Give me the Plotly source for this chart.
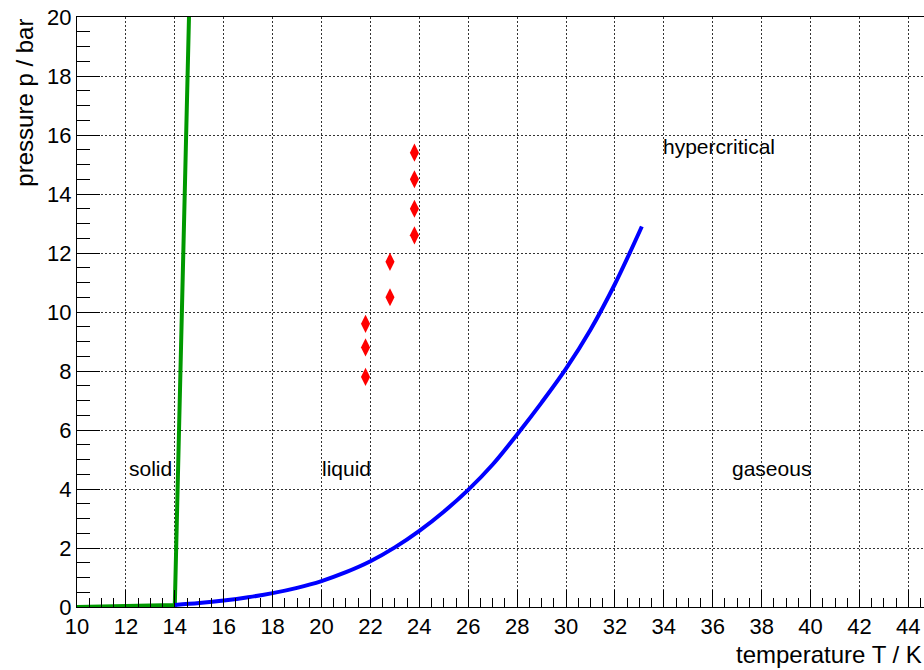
import plotly.graph_objects as go

# Data
melt_T = [10.0, 14.0, 14.58]
melt_p = [0.0, 0.07, 20.0]

vap_T = [14, 15, 16, 17, 18, 19, 20, 21, 22, 23, 24, 25, 26, 27, 28, 29, 30, 31, 32, 33.1]
vap_p = [0.07, 0.135, 0.22, 0.33, 0.47, 0.65, 0.88, 1.18, 1.55, 2.02, 2.58, 3.23, 3.97,
         4.83, 5.85, 6.93, 8.08, 9.4, 10.95, 12.9]

meas_T = [21.8, 21.8, 21.8, 22.8, 22.8, 23.8, 23.8, 23.8, 23.8]
meas_p = [7.8, 8.8, 9.6, 10.5, 11.7, 12.6, 13.5, 14.5, 15.4]

region_labels = ["solid", "liquid", "hypercritical", "gaseous"]
region_T = [12.05, 19.95, 33.9, 36.7]
region_p = [4.7, 4.7, 15.6, 4.7]

x_range = [10, 44.64]
y_range = [0, 20]

FONT = "Liberation Sans, Arial, sans-serif"

fig = go.Figure()
fig.add_trace(go.Scatter(x=melt_T, y=melt_p, mode="lines",
                         line=dict(color="#009900", width=4), showlegend=False))
fig.add_trace(go.Scatter(x=vap_T, y=vap_p, mode="lines",
                         line=dict(color="#0000ff", width=4, shape="spline", smoothing=1.0),
                         showlegend=False))
fig.add_trace(go.Scatter(x=meas_T, y=meas_p, mode="markers",
                         marker=dict(symbol="diamond-tall", size=13, color="#ff0000",
                                     line=dict(width=0)),
                         showlegend=False))

for txt, tx, ty in zip(region_labels, region_T, region_p):
    fig.add_annotation(x=tx, y=ty, text=txt, showarrow=False, xanchor="left",
                       yanchor="middle", font=dict(family=FONT, size=21, color="black"))

axis_common = dict(
    showgrid=True, gridcolor="#333333", griddash="2px,2px", gridwidth=1,
    zeroline=False, showline=True, linecolor="black", linewidth=1,
    ticks="inside", tickcolor="black", tickwidth=1,
    tickfont=dict(family=FONT, size=22, color="black"),
)

fig.update_xaxes(range=x_range, dtick=2, tick0=10, ticklen=17, mirror=True,
                 minor=dict(dtick=0.5, ticklen=9, ticks="inside", tickcolor="black",
                            showgrid=False),
                 **axis_common)
fig.update_yaxes(range=y_range, dtick=2, tick0=0, ticklen=23,
                 minor=dict(dtick=0.5, ticklen=13, ticks="inside", tickcolor="black",
                            showgrid=False),
                 **axis_common)

fig.add_annotation(xref="paper", yref="paper", x=1, y=-0.081, xanchor="right",
                   yanchor="middle", text="temperature T / K", showarrow=False,
                   font=dict(family=FONT, size=24, color="black"))
fig.add_annotation(xref="paper", yref="paper", x=-0.063, y=1, xanchor="center",
                   yanchor="top", text="pressure p / bar", showarrow=False,
                   textangle=-90, font=dict(family=FONT, size=24, color="black"))

fig.update_layout(
    width=924, height=670,
    margin=dict(l=77, r=0, t=17, b=63),
    paper_bgcolor="white", plot_bgcolor="white",
    font=dict(family=FONT, color="black"),
)

fig.write_html("out.html")
